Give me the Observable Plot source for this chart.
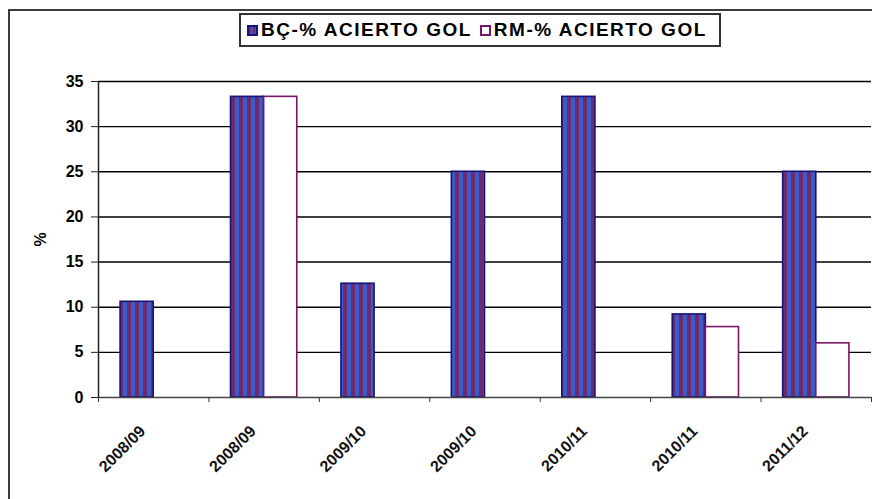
<!DOCTYPE html>
<html>
<head>
<meta charset="utf-8">
<script src="https://cdn.jsdelivr.net/npm/d3@7"></script>
<script src="https://cdn.jsdelivr.net/npm/@observablehq/plot@0.6"></script>
<style>
  html, body { margin: 0; padding: 0; background: #fff; }
  body { width: 872px; height: 499px; overflow: hidden; position: relative; font-family: "Liberation Sans", Arial, sans-serif; }
  #frame { position: absolute; left: 8px; top: 9px; width: 900px; height: 520px; border: 2px solid #3a3a3a; box-sizing: border-box; }
  #chart { position: absolute; left: 0; top: 0; }
  #legend { position: absolute; left: 239px; top: 13px; width: 482px; height: 34px; border: 2px solid #333; box-sizing: border-box; background: #fff;
            display: flex; align-items: center; padding-left: 6px; font-weight: bold; font-size: 19px; letter-spacing: 1.5px; color: #000; white-space: pre; }
  .sw { display: inline-block; width: 11px; height: 11px; margin-right: 3px; box-sizing: border-box; }
  .item { display: inline-flex; align-items: center; margin-right: 8px; }
</style>
</head>
<body>
<div id="frame"></div>
<div id="chart"></div>
<div id="legend"></div>
<script>
const categories = ["2008/09", "2008/09", "2009/10", "2009/10", "2010/11", "2010/11", "2011/12"];
const seriesNames = ["BÇ-% ACIERTO GOL", "RM-% ACIERTO GOL"];
const bcValues = [10.6, 33.3, 12.6, 25, 33.3, 9.2, 25];
const rmValues = [null, 33.3, null, null, null, 7.8, 6.0];
const yTicks = [0, 5, 10, 15, 20, 25, 30, 35];

const blue = "#3a5cc8", purple = "#6e2a6c", navy = "#14147a", plum = "#7a1668";

// group layout within each category slot (fraction of slot)
const groupPad = 0.2, barW = 0.3;
const rows = [];
categories.forEach((c, i) => {
  rows.push({i, label: c, series: seriesNames[0], value: bcValues[i], x1: i + groupPad, x2: i + groupPad + barW});
  if (rmValues[i] != null) rows.push({i, label: c, series: seriesNames[1], value: rmValues[i], x1: i + groupPad + barW, x2: i + groupPad + 2 * barW});
});
const bc = rows.filter(d => d.series === seriesNames[0]);
const rm = rows.filter(d => d.series === seriesNames[1]);
const centers = categories.map((c, i) => ({i, c, x: i + 0.5}));

function defs() {
  const d = d3.create("svg:defs");
  const p = d.append("pattern").attr("id", "stripes").attr("patternUnits", "userSpaceOnUse")
    .attr("width", 8).attr("height", 8);
  p.append("rect").attr("width", 8).attr("height", 8).attr("fill", purple);
  p.append("rect").attr("x", 3).attr("width", 4).attr("height", 8).attr("fill", blue);
  return d.node();
}

const chart = Plot.plot({
  width: 872,
  height: 499,
  marginLeft: 98,
  marginRight: 1,
  marginTop: 81,
  marginBottom: 102,
  style: {fontFamily: "'Liberation Sans', Arial, sans-serif", fontWeight: "bold", fontSize: "16px", color: "#000", background: "transparent"},
  x: {type: "linear", domain: [0, categories.length], axis: null},
  y: {domain: [0, 35], axis: null},
  marks: [
    defs,
    Plot.ruleY(yTicks.filter(t => t > 0), {stroke: "#000", strokeWidth: 1.4}),
    Plot.rect(bc, {x1: "x1", x2: "x2", y1: 0, y2: "value", fill: "url(#stripes)", stroke: navy, strokeWidth: 1.6}),
    Plot.rect(rm, {x1: "x1", x2: "x2", y1: 0, y2: "value", fill: "#fff", stroke: plum, strokeWidth: 1.6}),
    Plot.ruleX([0], {y1: 0, y2: 35, stroke: "#222", strokeWidth: 1.5}),
    Plot.ruleY([0], {stroke: "#444", strokeWidth: 1.5}),
    Plot.axisY({ticks: yTicks, tickSize: 7, tickPadding: 8, stroke: "#222", fontSize: 16,
                label: "%", labelAnchor: "center", labelOffset: 64, labelArrow: "none"}),
    Plot.axisX({ticks: d3.range(0, categories.length + 1), tickSize: 5, tickFormat: () => "", stroke: "#333"}),
    Plot.text(centers, {x: "x", y: 0, text: "c", rotate: -45, textAnchor: "end", lineAnchor: "middle",
                        dx: -11, dy: 31, fontSize: 16, fontWeight: "bold", fill: "#111"})
  ]
});
document.getElementById("chart").appendChild(chart);

// legend
const leg = d3.select("#legend");
const swatches = [
  {bg: `repeating-linear-gradient(90deg, ${purple} 0 2px, ${blue} 2px 4px)`, border: navy},
  {bg: "#fff", border: plum}
];
seriesNames.forEach((s, k) => {
  const it = leg.append("span").attr("class", "item");
  it.append("span").attr("class", "sw").style("background", swatches[k].bg).style("border", `2px solid ${swatches[k].border}`);
  it.append("span").text(s);
});
</script>
</body>
</html>
